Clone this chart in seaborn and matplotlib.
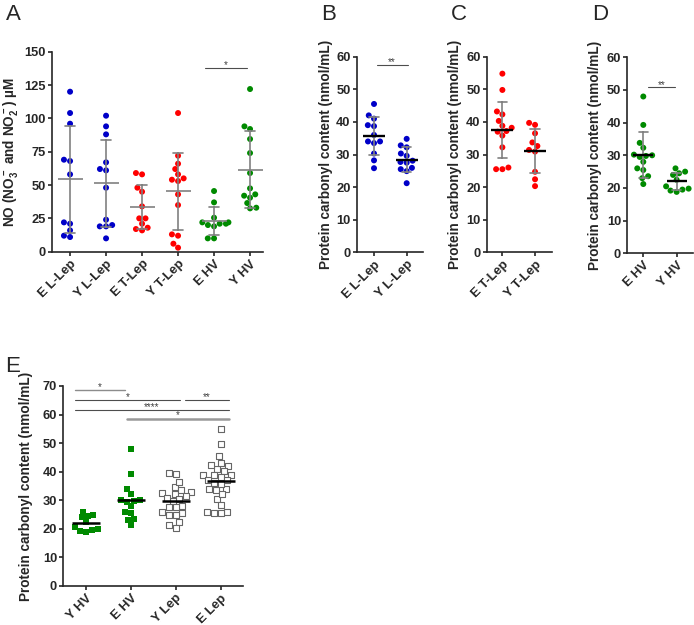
import numpy as np
import pandas as pd
import matplotlib
matplotlib.use('Agg')
import matplotlib.pyplot as plt
import seaborn as sns

# A: NO (µM)
no_groups = ['E L-Lep', 'Y L-Lep', 'E T-Lep', 'Y T-Lep', 'E HV', 'Y HV']
no_e_llep = [120, 104, 96, 69, 68, 58, 22, 21, 16, 12, 11]
no_y_llep = [102, 94, 88, 67, 62, 61, 48, 24, 20, 19, 19, 10]
no_e_tlep = [59, 58, 48, 45, 34, 25, 25, 21, 18, 17, 16]
no_y_tlep = [104, 72, 66, 62, 58, 55, 54, 53, 43, 35, 13, 12, 6, 3]
no_e_hv = [45.5, 37, 25.5, 22, 22, 21, 21, 20, 19, 10, 10]
no_y_hv = [122, 94, 92, 84.5, 74, 59, 47.5, 43, 42, 40.5, 36.5, 33, 32.5]

# B-D: protein carbonyl content (nmol/mL)
pc_e_llep = [45.5, 42, 41, 39, 38.7, 36, 34, 34, 33.5, 30.3, 28.2, 25.8]
pc_y_llep = [34.8, 32.8, 32.2, 30.3, 29.6, 28.1, 27.7, 27.5, 25.9, 25.5, 24.9, 21.2]
pc_e_tlep = [54.8, 49.8, 43.2, 42.3, 40.3, 38.8, 38.2, 37.2, 37, 35.8, 32.2, 26, 25.5, 25.5]
pc_y_tlep = [39.7, 39.1, 36.5, 33.7, 32.6, 31.4, 30.9, 24.7, 22.4, 20.3]
pc_e_hv = [48, 39.3, 33.8, 32.3, 30.2, 30, 29.8, 29.5, 28, 26, 25.5, 23.6, 23, 21.2]
pc_y_hv = [26, 25, 24.5, 24, 22.5, 20.5, 19.8, 19.5, 19.2, 18.8]

# E: 合并组
e_groups = ['Y HV', 'E HV', 'Y Lep', 'E Lep']

blue = '#0000c8'
red = '#ff0000'
green = '#008a00'

sns.set_style('ticks')
plt.rcParams['font.family'] = ['Liberation Sans', 'DejaVu Sans']
plt.rcParams['font.weight'] = 'bold'
plt.rcParams['mathtext.default'] = 'regular'
plt.rcParams['axes.linewidth'] = 1.2

W, H = 694, 625
fig = plt.figure(figsize=(W / 100, H / 100), dpi=100)


def add_ax(left, right, top, bottom):
    return fig.add_axes([left / W, 1 - bottom / H, (right - left) / W, (bottom - top) / H])


def long_df(groups, values):
    return pd.DataFrame({'group': np.repeat(groups, [len(v) for v in values]),
                         'value': np.concatenate(values)})


def style_ax(ax, xlim, ymax, ystep, ylabel, labx):
    ax.set_xlim(*xlim)
    ax.set_ylim(0, ymax)
    ax.set_yticks(np.arange(0, ymax + 0.1, ystep))
    ax.set_xlabel('')
    ax.set_ylabel(ylabel, fontsize=9.8, fontweight='bold')
    ax.yaxis.set_label_coords(labx, 0.5)
    sns.despine(ax=ax)
    ax.tick_params(direction='out', length=3, width=1.2, labelsize=9.3, pad=1.5)
    ax.tick_params(axis='x', labelrotation=45)
    plt.setp(ax.get_xticklabels(), ha='right', rotation_mode='anchor')


def dot_panel(ax, groups, values, colors, mean_color, mean_lw, mean_len):
    df = long_df(groups, values)
    sns.swarmplot(data=df, x='group', y='value', hue='group', order=groups,
                  palette=dict(zip(groups, colors)), size=4.3, legend=False, ax=ax)
    sns.pointplot(data=df, x='group', y='value', order=groups, errorbar='sd', capsize=0.28,
                  color='0.5', linestyle='none', marker='',
                  err_kws={'linewidth': 1.2, 'zorder': 4}, ax=ax)
    sns.pointplot(data=df, x='group', y='value', order=groups, errorbar=None,
                  color=mean_color, linestyle='none', marker='_', markersize=mean_len,
                  markeredgewidth=mean_lw, zorder=5, ax=ax)


def sig(ax, x0, x1, y, txt, color='0.3', lw=0.8, dy=1.0, fs=7):
    ax.plot([x0, x1], [y, y], color=color, lw=lw, clip_on=False)
    ax.text((x0 + x1) / 2, y + dy, txt, ha='center', va='bottom', fontsize=fs,
            color='0.25', fontweight='normal', clip_on=False)


# A
axA = add_ax(51.7, 263, 51.7, 251.7)
dot_panel(axA, no_groups, [no_e_llep, no_y_llep, no_e_tlep, no_y_tlep, no_e_hv, no_y_hv],
          [blue, blue, red, red, green, green], '0.5', 1.2, 18)
style_ax(axA, (-0.51, 5.36), 150, 25, r'NO (NO$_3^-$ and NO$_2^-$) µM', -0.15)
sig(axA, 3.74, 4.92, 137.5, '*', dy=-1.5)

# B
axB = add_ax(356.7, 423, 56.7, 252.3)
dot_panel(axB, ['E L-Lep', 'Y L-Lep'], [pc_e_llep, pc_y_llep], [blue, blue], 'black', 1.7, 15.6)
style_ax(axB, (-0.53, 1.5), 60, 10, 'Protein carbonyl content (nmol/mL)', -0.36)
sig(axB, 0.08, 1.03, 57.6, '**', dy=-0.8)

# C
axC = add_ax(486.7, 551.7, 56.7, 252.3)
dot_panel(axC, ['E T-Lep', 'Y T-Lep'], [pc_e_tlep, pc_y_tlep], [red, red], 'black', 1.7, 15.6)
style_ax(axC, (-0.48, 1.51), 60, 10, 'Protein carbonyl content (nmol/mL)', -0.38)

# D
axD = add_ax(627.3, 693.3, 57.3, 253.3)
dot_panel(axD, ['E HV', 'Y HV'], [pc_e_hv, pc_y_hv], [green, green], 'black', 1.7, 14.5)
style_ax(axD, (-0.48, 1.5), 60, 10, 'Protein carbonyl content (nmol/mL)', -0.383)
sig(axD, 0.13, 0.95, 50.8, '**', dy=-0.8)

# E
axE = add_ax(63.3, 243, 386, 586)
df_hv = long_df(['Y HV', 'E HV'], [pc_y_hv, pc_e_hv])
df_lep = long_df(['Y Lep', 'E Lep'], [pc_y_llep + pc_y_tlep, pc_e_llep + pc_e_tlep])
sns.swarmplot(data=df_hv, x='group', y='value', order=e_groups, marker='s', color=green,
              size=4.2, linewidth=0, ax=axE)
sns.swarmplot(data=df_lep, x='group', y='value', order=e_groups, marker='s', color='white',
              edgecolor='0.4', linewidth=0.8, size=4.0, ax=axE)
df_all = pd.concat([df_hv, df_lep])
sns.pointplot(data=df_all, x='group', y='value', order=e_groups, errorbar=None, color='black',
              linestyle='none', marker='_', markersize=19.5, markeredgewidth=1.8, zorder=5, ax=axE)
style_ax(axE, (-0.5, 3.5), 70, 10, 'Protein carbonyl content (nmol/mL)', -0.169)
sig(axE, -0.25, 0.87, 68.6, '*', color='0.55', lw=1.0, dy=-0.6)
sig(axE, -0.25, 2.1, 65.1, '*', dy=-0.6)
sig(axE, 2.2, 3.18, 65.1, '**', dy=-0.6)
sig(axE, -0.25, 3.18, 61.6, '****', dy=-0.6)
sig(axE, 0.91, 3.18, 58.5, '*', color='0.6', lw=1.8, dy=-0.6)

# 面板字母
for lab, px, py in [('A', 13.5, 14.5), ('B', 328.5, 14.5), ('C', 459, 14.5),
                    ('D', 600, 14.5), ('E', 13, 366)]:
    fig.text(px / W, 1 - py / H, lab, fontsize=16, fontweight='normal', ha='center', va='center')

fig.savefig('out.png', dpi=100)
